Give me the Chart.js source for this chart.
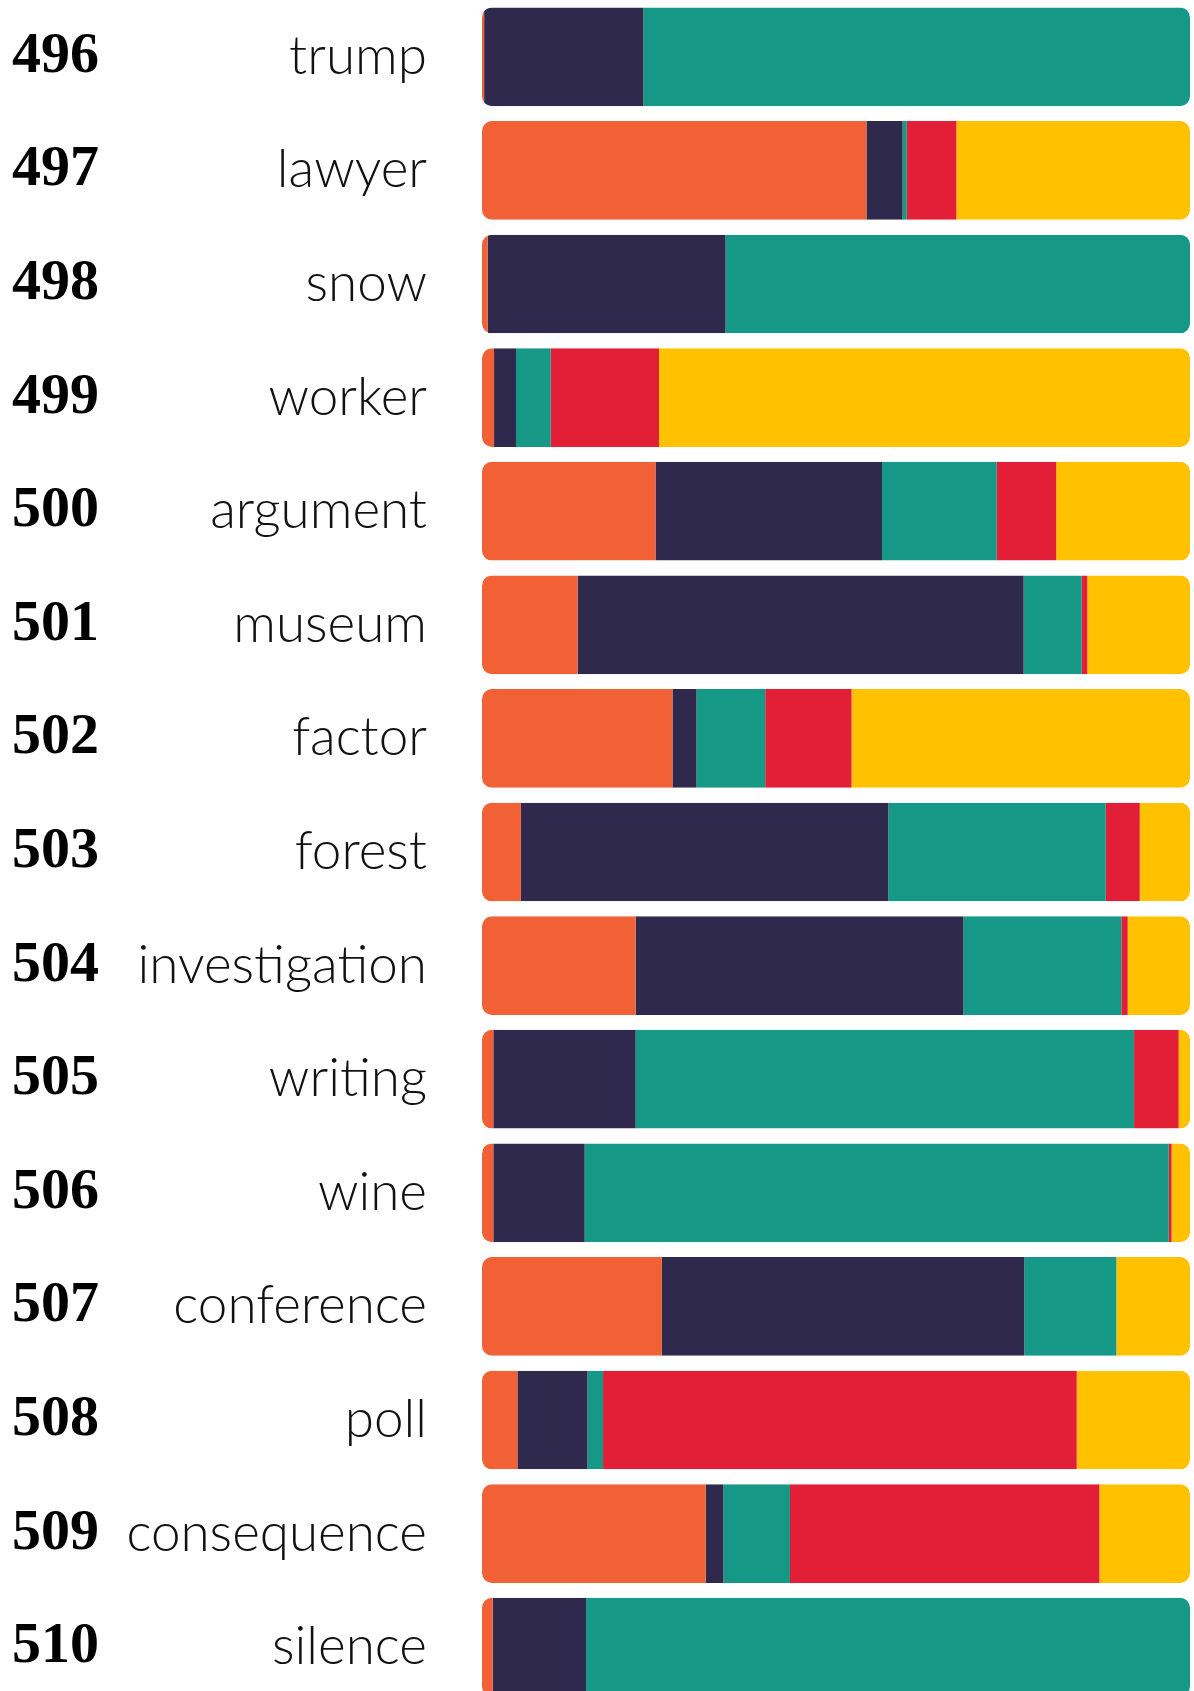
<!DOCTYPE html>
<html>
<head>
<meta charset="utf-8">
<script src="https://cdn.jsdelivr.net/npm/chart.js@4/dist/chart.umd.min.js"></script>
<style>
  html, body { margin: 0; padding: 0; background: #ffffff; overflow: hidden; }
  #wrap { width: 1194px; height: 1704px; position: relative; }
</style>
</head>
<body>
<div id="wrap"><canvas id="rankChart"></canvas></div>
<script>
// ranks and words, top to bottom
var ranks = ["496", "497", "498", "499", "500", "501", "502", "503", "504", "505", "506", "507", "508", "509", "510"];
var words = ["trump", "lawyer", "snow", "worker", "argument", "museum", "factor", "forest", "investigation", "writing", "wine", "conference", "poll", "consequence", "silence"];

// share of each segment per word, in percent
var orangeShare = [0.3, 54.3, 0.8, 1.7, 24.5, 13.5, 26.9, 5.5, 21.7, 1.6, 1.6, 25.4, 5.0, 31.6, 1.5];
var navyShare   = [22.5, 5.1, 33.6, 3.1, 32.0, 63.0, 3.4, 51.9, 46.3, 20.1, 12.9, 51.2, 9.9, 2.5, 13.2];
var tealShare   = [77.2, 0.6, 65.6, 4.9, 16.2, 8.2, 9.7, 30.7, 22.3, 70.4, 82.5, 13.0, 2.2, 9.4, 85.3];
var redShare    = [0, 7.0, 0, 15.3, 8.4, 0.8, 12.2, 4.8, 0.9, 6.3, 0.4, 0, 66.9, 43.7, 0];
var yellowShare = [0, 33.0, 0, 75.0, 18.9, 14.5, 47.8, 7.1, 8.8, 1.6, 2.6, 10.4, 16.0, 12.8, 0];

var colors = {
  orange: "#F26135",
  navy: "#2F2A4D",
  teal: "#159886",
  red: "#E31F37",
  yellow: "#FFC100"
};

// clip every stacked row into one rounded bar
var roundRows = {
  id: "roundRows",
  beforeDatasetsDraw: function (chart) {
    var ctx = chart.ctx;
    var xs = chart.scales.x;
    var meta = chart.getDatasetMeta(0);
    var x0 = xs.getPixelForValue(0);
    var x1 = xs.getPixelForValue(100);
    ctx.save();
    ctx.beginPath();
    meta.data.forEach(function (bar) {
      var h = bar.height;
      ctx.roundRect(x0, bar.y - h / 2, x1 - x0, h, 10);
    });
    ctx.clip();
  },
  afterDatasetsDraw: function (chart) {
    chart.ctx.restore();
  }
};

// fixed width for a label column, no extra room above/below
function fixColumn(width) {
  return function (scale) {
    scale.width = width;
    scale.paddingTop = 0;
    scale.paddingBottom = 0;
    scale.paddingLeft = 0;
    scale.paddingRight = 0;
  };
}

var ctx = document.getElementById("rankChart").getContext("2d");
var rankChart = new Chart(ctx, {
  type: "bar",
  plugins: [roundRows],
  data: {
    labels: words,
    datasets: [
      { label: "orange", data: orangeShare, backgroundColor: colors.orange },
      { label: "navy", data: navyShare, backgroundColor: colors.navy },
      { label: "teal", data: tealShare, backgroundColor: colors.teal },
      { label: "red", data: redShare, backgroundColor: colors.red },
      { label: "yellow", data: yellowShare, backgroundColor: colors.yellow }
    ]
  },
  options: {
    indexAxis: "y",
    responsive: true,
    maintainAspectRatio: false,
    animation: false,
    categoryPercentage: 1,
    barPercentage: 0.869,
    borderSkipped: false,
    layout: { padding: { left: 12, right: 4, top: 0, bottom: 0 } },
    plugins: {
      legend: { display: false },
      tooltip: { enabled: false }
    },
    scales: {
      x: {
        stacked: true,
        min: 0,
        max: 100,
        display: false
      },
      y: {
        stacked: true,
        position: "left",
        weight: 0,
        grid: { display: false, drawTicks: false },
        border: { display: false },
        ticks: {
          color: "#111111",
          padding: 55,
          font: { family: "Lato", size: 53, weight: 300 }
        },
        afterFit: fixColumn(358)
      },
      rank: {
        type: "category",
        labels: ranks,
        position: "left",
        weight: 1,
        offset: true,
        grid: { display: false, drawTicks: false },
        border: { display: false },
        ticks: {
          color: "#000000",
          crossAlign: "far",
          padding: 0,
          font: { family: "Liberation Serif", size: 58, weight: "bold" }
        },
        afterFit: fixColumn(112)
      }
    }
  }
});
</script>
</body>
</html>
